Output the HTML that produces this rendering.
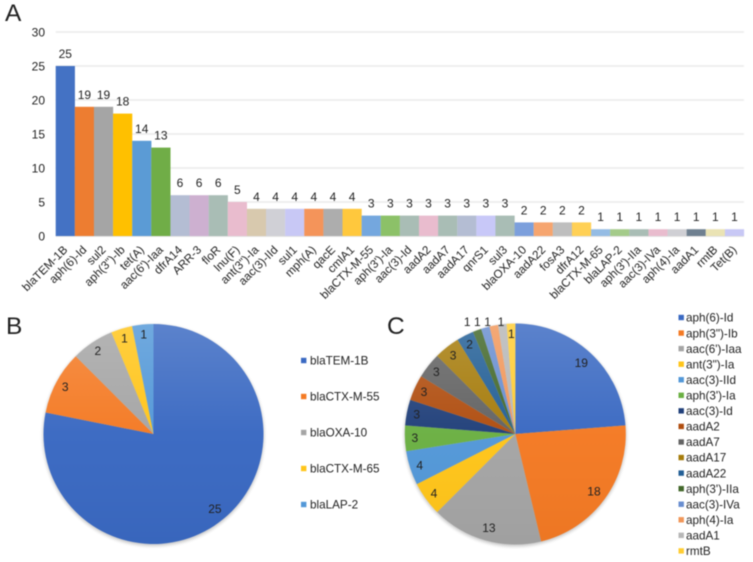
<!DOCTYPE html>
<html>
<head>
<meta charset="utf-8">
<style>
html,body{margin:0;padding:0;background:#fff;}
svg{display:block;font-family:"Liberation Sans",sans-serif;filter:blur(0.45px);}
text{fill:#222;}
</style>
</head>
<body>
<svg id="figure" width="753" height="562" viewBox="0 0 753 562" xmlns="http://www.w3.org/2000/svg">
  <defs>
    <linearGradient id="pie-shade" x1="0" y1="0" x2="0" y2="1">
      <stop offset="0" stop-color="#fff" stop-opacity="0.17"/>
      <stop offset="0.5" stop-color="#fff" stop-opacity="0.02"/>
      <stop offset="1" stop-color="#000" stop-opacity="0.03"/>
    </linearGradient>
    <filter id="pie-shadow" x="-10%" y="-10%" width="120%" height="120%">
      <feGaussianBlur stdDeviation="1.5"/>
    </filter>
  </defs>
  <text x="5" y="21" font-size="24.5">A</text>
  <text x="6" y="334" font-size="24.5">B</text>
  <text x="387" y="334" font-size="24.5">C</text>
  <g id="bar-chart"></g>
  <g id="pie-b"></g>
  <g id="pie-c"></g>
</svg>
<script>
const barCategories = ["blaTEM-1B","aph(6)-Id","sul2","aph(3\")-Ib","tet(A)","aac(6')-Iaa","dfrA14","ARR-3","floR","lnu(F)","ant(3\")-Ia","aac(3)-IId","sul1","mph(A)","qacE","cmlA1","blaCTX-M-55","aph(3')-Ia","aac(3)-Id","aadA2","aadA7","aadA17","qnrS1","sul3","blaOXA-10","aadA22","fosA3","dfrA12","blaCTX-M-65","blaLAP-2","aph(3')-IIa","aac(3)-IVa","aph(4)-Ia","aadA1","rmtB","Tet(B)"];
const barValues = [25,19,19,18,14,13,6,6,6,5,4,4,4,4,4,4,3,3,3,3,3,3,3,3,2,2,2,2,1,1,1,1,1,1,1,1];
const barColors = ["#4472C4","#ED7D31","#A5A5A5","#FFC000","#5B9BD5","#70AD47","#B4BDD3","#CDB0D0","#A9BDB5","#E9BCCE","#D8C9AE","#D0D0D6","#C8C8F5","#F4945A","#ADADAD","#FFC83D","#74A7DE","#8CC168","#A9BDB5","#E9BCCE","#A9BDB5","#B4BDD3","#C8C8F8","#A9BDB5","#7C9FDC","#F6A56F","#BEBEBE","#FFD055","#95BCE4","#A4CB8A","#A9BDB5","#E9BCCE","#CFCFD4","#6F8090","#EAE3B4","#C8C8F5"];
const yTicks = [0,5,10,15,20,25,30];

const pieBCategories = ["blaTEM-1B","blaCTX-M-55","blaOXA-10","blaCTX-M-65","blaLAP-2"];
const pieBValues = [25,3,2,1,1];
const pieBColors = ["#3A69C2","#F47A24","#A5A5A5","#FFC51A","#5398D8"];

const pieCCategories = ["aph(6)-Id","aph(3\")-Ib","aac(6')-Iaa","ant(3\")-Ia","aac(3)-IId","aph(3')-Ia","aac(3)-Id","aadA2","aadA7","aadA17","aadA22","aph(3')-IIa","aac(3)-IVa","aph(4)-Ia","aadA1","rmtB"];
const pieCValues = [19,18,13,4,4,3,3,3,3,3,2,1,1,1,1,1];
const pieCColors = ["#3A69C2","#F47A24","#A5A5A5","#FFC51A","#5398D8","#6BB043","#21407A","#B04E10","#636363","#A67C0C","#235F96","#43682B","#698ED0","#F1975A","#B7B7B7","#FFCD33"];

const NS = "http://www.w3.org/2000/svg";
function make(tag, parent, attrs, content) {
  const el = document.createElementNS(NS, tag);
  for (const k in attrs) el.setAttribute(k, attrs[k]);
  if (content !== undefined) el.textContent = content;
  parent.appendChild(el);
  return el;
}

/* Bar chart */
(function () {
  const g = document.getElementById("bar-chart");
  const left = 55.7, right = 744, y0 = 236, yMax = 30, plotH = 204;
  const band = (right - left) / barValues.length;
  const xPos = i => left + i * band;
  const yPos = v => y0 - (v / yMax) * plotH;

  yTicks.forEach(t => {
    const line = make("rect", g, {x: left, y: yPos(t) - 0.75, width: right - left, height: 1.5, fill: t === 0 ? "#dcdcdc" : "#ebebeb"});
    
    
    const label = make("text", g, {x: 45, y: yPos(t) + 4.3, "font-size": 12, "text-anchor": "end"}, t);
    
    
  });

  barValues.forEach((v, i) => {
    const bar = make("rect", g, {x: xPos(i), y: yPos(v), width: band + 0.1, height: y0 - yPos(v), fill: barColors[i]});
    
    
    const value = make("text", g, {x: xPos(i) + band / 2, y: yPos(v) - 8, "font-size": 12, "text-anchor": "middle"}, v);
    
    
    const cx = xPos(i) + band / 2 + 3, cy = 250.5;
    const cat = make("text", g, {x: cx, y: cy, "font-size": 11.7, "text-anchor": "end", transform: "rotate(-45 " + cx + " " + cy + ")"}, barCategories[i]);
    
    
  });
})();

/* Pie charts */
function drawPie(g, values, colors, cx, cy, r, placeLabel) {
  const total = values.reduce((a, b) => a + b, 0);
  const shadow = make("circle", g, {cx: cx, cy: cy + 1.5, r: r + 0.5, fill: "#000", opacity: 0.22, filter: "url(#pie-shadow)"});
  
  
  let cum = 0;
  const labels = [];
  values.forEach((v, i) => {
    const a0 = cum / total * 2 * Math.PI;
    cum += v;
    const a1 = cum / total * 2 * Math.PI;
    const large = a1 - a0 > Math.PI ? 1 : 0;
    const d = "M" + cx + " " + cy +
      "L" + (cx + r * Math.sin(a0)) + " " + (cy - r * Math.cos(a0)) +
      "A" + r + " " + r + " 0 " + large + " 1 " + (cx + r * Math.sin(a1)) + " " + (cy - r * Math.cos(a1)) + "Z";
    const slice = make("path", g, {d: d, fill: colors[i]});
    
    
    labels.push({i: i, v: v, mid: (a0 + a1) / 2});
  });
  const shade = make("circle", g, {cx: cx, cy: cy, r: r, fill: "url(#pie-shade)"});
  
  
  labels.forEach(l => {
    const p = placeLabel(l, cx, cy, r);
    const t = make("text", g, {x: p.x, y: p.y + 4.3, "font-size": 12, "text-anchor": "middle"}, l.v);
    
    
  });
}

function insideLabel(l, cx, cy, r) {
  const k = l.v >= 13 ? 0.88 : 0.91;
  return {x: cx + k * r * Math.sin(l.mid), y: cy - k * r * Math.cos(l.mid)};
}

function drawLegend(g, names, colors, squareX, textX, firstY, step, prefix) {
  names.forEach((name, i) => {
    const y = firstY + i * step;
    const sq = make("rect", g, {x: squareX, y: y - 2.7, width: 5.4, height: 5.4, fill: colors[i]});
    
    
    const t = make("text", g, {x: textX, y: y + 4.2, "font-size": 11.7}, name);
    
    
  });
}

const pieB = document.getElementById("pie-b");
drawPie(pieB, pieBValues, pieBColors, 153.5, 434, 110, insideLabel);
drawLegend(pieB, pieBCategories, pieBColors, 301, 310, 360.5, 36, "pie-b");

const outsideNudge = {11: -6, 12: -5, 13: -4, 14: 0};
const pieC = document.getElementById("pie-c");
drawPie(pieC, pieCValues, pieCColors, 515.3, 434, 110.5, function (l, cx, cy, r) {
  if (l.i in outsideNudge) {
    return {x: cx + 1.1 * r * Math.sin(l.mid) + outsideNudge[l.i], y: cy - 112.5};
  }
  return insideLabel(l, cx, cy, r);
});
drawLegend(pieC, pieCCategories, pieCColors, 678.5, 686, 317.5, 15.56, "pie-c");
</script>
</body>
</html>
